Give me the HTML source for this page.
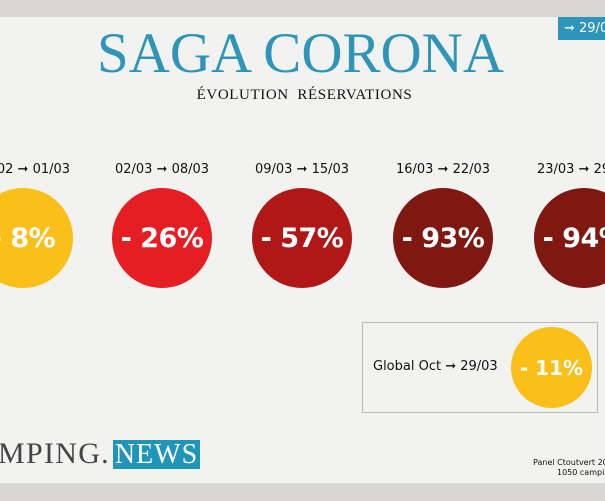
<!DOCTYPE html>
<html><head><meta charset="utf-8"><style>
*{margin:0;padding:0;box-sizing:border-box}
body{width:605px;height:501px;overflow:hidden;background:#f2f2f0;position:relative;font-family:"DejaVu Sans","Liberation Sans",sans-serif}
.bar{position:absolute;left:0;width:605px;background:#d8d7d5}
.c{position:absolute;border-radius:50%;color:#fff;font-weight:bold;display:flex;align-items:center;justify-content:center;white-space:nowrap;font-family:"DejaVu Sans",sans-serif}
.d{position:absolute;font-size:13px;color:#111;white-space:nowrap;transform:translateX(-50%);top:162px}
.big{width:100px;height:100px;top:188px;font-size:27px;letter-spacing:-0.5px}
</style></head><body>
<div class="bar" style="top:0;height:17px"></div>
<div class="bar" style="top:483px;height:18px"></div>
<div style="position:absolute;left:558px;top:17px;width:47px;height:23px;background:#2e95b8;color:#fff;font-size:13px;line-height:23px;padding-left:6px;white-space:nowrap">➞ 29/03</div>
<div style="position:absolute;left:0;width:605px;top:24px;text-align:center;font-family:'Liberation Serif',serif;font-size:57px;color:#2e95b8;line-height:60px;padding-right:4px">SAGA CORONA</div>
<div style="position:absolute;left:0;width:605px;top:87px;text-align:center;font-family:'Liberation Serif',serif;font-size:15px;color:#111;letter-spacing:0.6px;padding-left:4px">ÉVOLUTION&nbsp; RÉSERVATIONS</div>

<div class="d" style="left:23px">24/02 ➞ 01/03</div>
<div class="d" style="left:162px">02/03 ➞ 08/03</div>
<div class="d" style="left:302px">09/03 ➞ 15/03</div>
<div class="d" style="left:443px">16/03 ➞ 22/03</div>
<div class="d" style="left:584px">23/03 ➞ 29/03</div>

<div class="c big" style="left:-27px;background:#fbbf1a">- 8%</div>
<div class="c big" style="left:112px;background:#e41e22">- 26%</div>
<div class="c big" style="left:252px;background:#b01818">- 57%</div>
<div class="c big" style="left:393px;background:#7e1811">- 93%</div>
<div class="c big" style="left:534px;background:#7e1811">- 94%</div>

<div style="position:absolute;left:362px;top:322px;width:236px;height:91px;border:1px solid #b8b8b8"></div>
<div style="position:absolute;left:373px;top:359px;font-size:13px;color:#111;white-space:nowrap">Global Oct ➞ 29/03</div>
<div class="c" style="left:511px;top:327px;width:81px;height:81px;background:#fbbf1a;font-size:20px">- 11%</div>

<div style="position:absolute;left:-2px;top:438px;font-family:'Liberation Serif',serif;font-size:30px;color:#444;letter-spacing:1.3px;white-space:nowrap;line-height:32px">MPING.</div>
<div style="position:absolute;left:113px;top:440px;width:87px;height:29px;background:#1f96b8;color:#fff;font-family:'Liberation Serif',serif;font-size:28px;line-height:30px;text-align:center;letter-spacing:1px">NEWS</div>
<div style="position:absolute;left:533px;top:458px;font-size:8px;color:#111;white-space:nowrap;line-height:10px">Panel Ctoutvert 2020<br><span style="padding-left:24px">1050 campings</span></div>
</body></html>
